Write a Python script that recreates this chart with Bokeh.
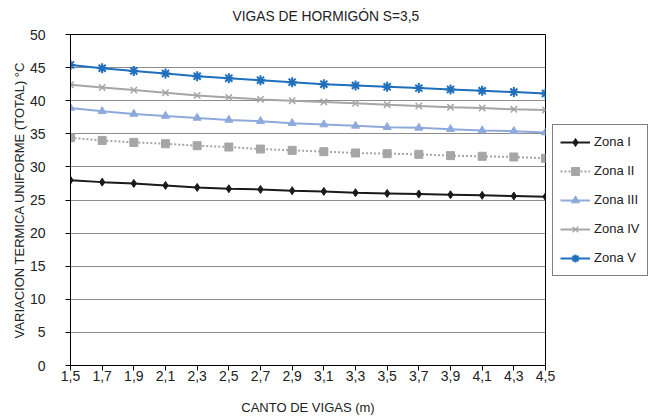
from bokeh.plotting import figure
from bokeh.models import Legend, LegendItem, FixedTicker, SingleIntervalTicker
from bokeh.embed import file_html
from bokeh.resources import INLINE

canto = [1.5, 1.7, 1.9, 2.1, 2.3, 2.5, 2.7, 2.9, 3.1, 3.3, 3.5, 3.7, 3.9, 4.1, 4.3, 4.5]
zona_i = [28.0, 27.7, 27.5, 27.2, 26.9, 26.7, 26.6, 26.4, 26.3, 26.1, 26.0, 25.9, 25.8, 25.7, 25.6, 25.5]
zona_ii = [34.4, 34.0, 33.7, 33.5, 33.2, 33.0, 32.7, 32.5, 32.3, 32.1, 32.0, 31.9, 31.7, 31.6, 31.5, 31.3]
zona_iii = [38.9, 38.4, 38.0, 37.7, 37.4, 37.1, 36.9, 36.6, 36.4, 36.2, 36.0, 35.9, 35.7, 35.5, 35.4, 35.2]
zona_iv = [42.4, 42.0, 41.6, 41.2, 40.8, 40.5, 40.2, 40.0, 39.8, 39.6, 39.4, 39.2, 39.0, 38.9, 38.7, 38.6]
zona_v = [45.4, 44.9, 44.5, 44.1, 43.7, 43.4, 43.1, 42.8, 42.5, 42.3, 42.1, 41.9, 41.7, 41.5, 41.3, 41.1]
x_tick_labels = {1.5: "1,5", 1.7: "1,7", 1.9: "1,9", 2.1: "2,1", 2.3: "2,3", 2.5: "2,5",
                 2.7: "2,7", 2.9: "2,9", 3.1: "3,1", 3.3: "3,3", 3.5: "3,5", 3.7: "3,7",
                 3.9: "3,9", 4.1: "4,1", 4.3: "4,3", 4.5: "4,5"}

FONT = "Liberation Sans"

p = figure(frame_width=475, frame_height=331, output_backend="svg", toolbar_location=None,
           x_range=(1.5, 4.5), y_range=(0, 50),
           min_border_left=70, min_border_right=0, min_border_top=34, min_border_bottom=50,
           title="VIGAS DE HORMIGÓN S=3,5")
p.title.align = "left"
p.title.offset = 162
p.title.vertical_align = "top"
p.title.text_font = FONT
p.title.text_font_size = "13.8px"
p.title.text_font_style = "normal"
p.title.text_color = "#222222"
p.title.standoff = 17

p.outline_line_color = "black"
p.outline_line_width = 1
p.xgrid.visible = False
p.ygrid.grid_line_color = "#8c8c8c"
p.ygrid.grid_line_width = 1
p.ygrid.ticker = SingleIntervalTicker(interval=5)

p.xaxis.ticker = FixedTicker(ticks=canto)
p.xaxis.major_label_overrides = x_tick_labels
p.yaxis.ticker = SingleIntervalTicker(interval=5)
p.xaxis.minor_tick_line_color = None
p.yaxis.minor_tick_line_color = None
for ax in (p.xaxis, p.yaxis):
    ax.axis_line_color = "black"
    ax.major_tick_line_color = "black"
    ax.major_tick_in = 0
    ax.major_tick_out = 5
    ax.major_label_text_font = FONT
    ax.major_label_text_font_size = "14px"
    ax.major_label_text_color = "#222222"
    ax.axis_label_text_font = FONT
    ax.axis_label_text_font_size = "13px"
    ax.axis_label_text_font_style = "normal"
    ax.axis_label_text_color = "#222222"
p.xaxis.axis_label = "CANTO DE VIGAS (m)"
p.yaxis.axis_label = "VARIACION TERMICA UNIFORME (TOTAL) °C"
p.xaxis.major_label_standoff = 0
p.yaxis.major_label_standoff = 20
p.xaxis.axis_label_standoff = 16
p.yaxis.axis_label_standoff = 0

items = []
r1 = p.line(canto, zona_i, line_color="#1a1a1a", line_width=2)
m1 = p.scatter(canto, zona_i, marker="diamond", size=8, fill_color="#1a1a1a", line_color="#1a1a1a")
items.append(LegendItem(label="Zona I", renderers=[r1, m1]))

r2 = p.line(canto, zona_ii, line_color="#a6a6a6", line_width=2, line_dash="2 2")
m2 = p.scatter(canto, zona_ii, marker="square", size=8, fill_color="#a6a6a6", line_color="#a6a6a6")
items.append(LegendItem(label="Zona II", renderers=[r2, m2]))

r3 = p.line(canto, zona_iii, line_color="#8eaadb", line_width=2)
m3 = p.scatter(canto, zona_iii, marker="triangle", size=8, fill_color="#8eaadb", line_color="#8eaadb")
items.append(LegendItem(label="Zona III", renderers=[r3, m3]))

r4 = p.line(canto, zona_iv, line_color="#a6a6a6", line_width=2)
m4 = p.scatter(canto, zona_iv, marker="x", size=9, line_color="#a6a6a6", line_width=1.5)
items.append(LegendItem(label="Zona IV", renderers=[r4, m4]))

r5 = p.line(canto, zona_v, line_color="#1f6fbd", line_width=2)
m5 = p.scatter(canto, zona_v, marker="asterisk", size=10, line_color="#1f6fbd", line_width=2)
items.append(LegendItem(label="Zona V", renderers=[r5, m5]))

legend = Legend(items=items, location="center_left")
legend.border_line_color = "black"
legend.border_line_width = 1
legend.background_fill_alpha = 1
legend.label_text_font = FONT
legend.label_text_font_size = "13px"
legend.label_text_color = "#222222"
legend.glyph_width = 30
legend.glyph_height = 20
legend.label_height = 20
legend.spacing = 9
legend.padding = 7
legend.margin = 7
legend.label_standoff = 4
p.add_layout(legend, "right")

open("out.html", "w").write(file_html(p, INLINE))
